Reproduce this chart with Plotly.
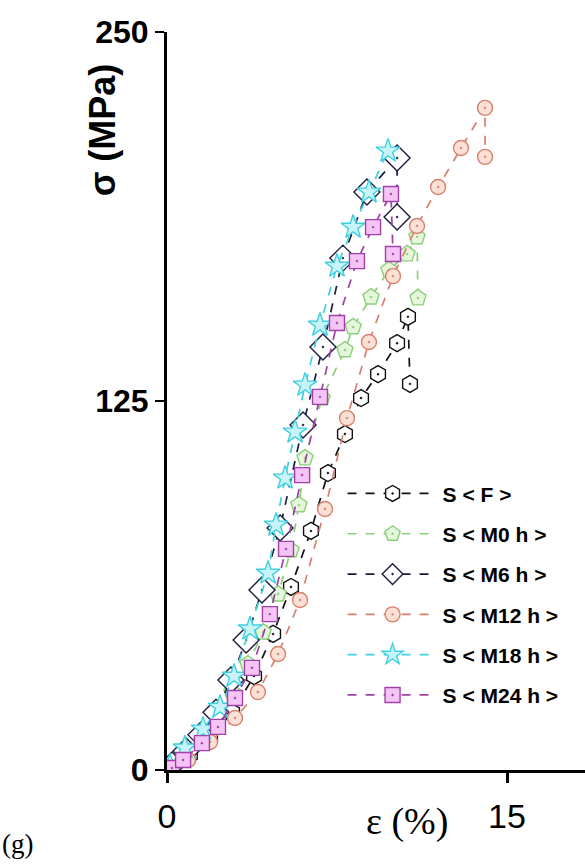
import plotly.graph_objects as go

# Strain (%) and stress (MPa) readings for each sample condition
names = ["S < F >", "S < M0 h >", "S < M6 h >", "S < M12 h >", "S < M18 h >", "S < M24 h >"]

strain_F = [0.22, 1.01, 1.90, 2.87, 3.84, 4.68, 5.47, 6.35, 7.10, 7.85, 8.56, 9.31, 10.15, 10.63, 10.72]
stress_F = [0.7, 5.1, 10.8, 19.6, 31.8, 46.1, 62.0, 81.0, 100.6, 113.8, 126.0, 134.1, 144.6, 153.5, 130.8]

strain_M0 = [0.18, 0.79, 1.46, 2.16, 2.87, 3.57, 4.24, 4.90, 5.47, 5.82, 6.09, 6.84, 7.85, 8.21, 9.00, 9.79, 10.59, 11.03, 11.07]
stress_M0 = [0.7, 5.4, 11.2, 18.3, 26.4, 35.9, 46.7, 59.6, 74.5, 89.8, 105.7, 126.0, 142.3, 150.1, 160.2, 169.4, 174.8, 180.6, 159.9]

strain_M6 = [0.22, 0.84, 1.50, 2.16, 2.82, 3.49, 4.19, 4.99, 6.00, 6.88, 7.76, 8.82, 10.15, 10.15]
stress_M6 = [1.7, 6.4, 11.9, 19.6, 30.5, 44.0, 61.0, 82.0, 116.9, 143.3, 173.4, 195.8, 207.3, 187.3]

strain_M12 = [0.22, 0.93, 1.90, 3.00, 4.01, 4.90, 5.87, 6.97, 7.94, 8.91, 9.97, 11.03, 11.96, 12.97, 14.03, 14.03]
stress_M12 = [0.7, 3.4, 9.5, 17.6, 26.4, 39.3, 57.6, 88.4, 119.2, 145.0, 167.3, 184.3, 197.5, 210.7, 224.3, 207.7]

strain_M18 = [0.13, 0.79, 1.59, 2.34, 2.96, 3.66, 4.46, 4.81, 5.21, 5.65, 6.09, 6.75, 7.50, 8.21, 8.91, 9.75]
stress_M18 = [1.4, 7.5, 13.9, 21.3, 31.8, 47.8, 66.7, 83.0, 98.9, 114.5, 130.4, 150.7, 170.7, 183.9, 195.8, 209.7]

strain_M24 = [0.22, 0.71, 1.54, 2.25, 3.00, 3.75, 4.54, 5.25, 5.96, 6.75, 7.50, 8.38, 9.09, 9.88, 9.97]
stress_M24 = [0.7, 3.4, 9.1, 14.6, 24.4, 34.6, 52.8, 74.9, 99.9, 126.4, 151.4, 172.4, 183.9, 195.1, 174.8]

x_ticks = [0, 15]
y_ticks = [0, 125, 250]

# (strain, stress, edge colour, fill colour, symbol, size)
series = [
    (strain_F, stress_F, "#111111", "#ffffff", "hexagon-dot", 17),
    (strain_M0, stress_M0, "#8ccf7a", "#e6f6dc", "pentagon-dot", 17),
    (strain_M6, stress_M6, "#1c1c40", "#ffffff", "diamond-dot", 20),
    (strain_M12, stress_M12, "#d8806e", "#fbe0d6", "circle-dot", 15),
    (strain_M18, stress_M18, "#3fd0e0", "#c8f4f8", "star", 18),
    (strain_M24, stress_M24, "#a040a8", "#f4c4f4", "square-dot", 15),
]

fig = go.Figure()
for i, (xs, ys, edge, fill, sym, sz) in enumerate(series):
    fig.add_trace(go.Scatter(
        x=xs, y=ys, name=names[i], mode="lines+markers",
        legendgroup=f"g{i}",
        line=dict(color=edge, width=1.7, dash="dash"),
        marker=dict(symbol=sym, size=sz, color=fill,
                    line=dict(color=edge, width=1.4)),
    ))

fig.update_layout(
    width=585, height=867,
    margin=dict(l=167, r=0, t=32, b=97),
    paper_bgcolor="white", plot_bgcolor="white",
    font=dict(family="Liberation Sans, Arial, sans-serif", color="black"),
    showlegend=True,
    legend=dict(
        x=0.42, y=0.402, xanchor="left", yanchor="top",
        bgcolor="rgba(0,0,0,0)", borderwidth=0,
        font=dict(size=21, family="Liberation Sans Narrow, Arial Narrow, Liberation Sans", weight="bold"),
        itemwidth=90, tracegroupgap=10, traceorder="grouped",
    ),
    xaxis=dict(
        range=[0, 18.44], tickvals=x_ticks, ticktext=[str(v) for v in x_ticks],
        showgrid=False, zeroline=False,
        showline=True, linecolor="black", linewidth=3,
        ticks="outside", ticklen=10, tickwidth=3, tickcolor="black",
        tickfont=dict(size=34, family="Liberation Sans Narrow, Liberation Sans"),
        ticklabelstandoff=4,
    ),
    yaxis=dict(
        range=[0, 250], tickvals=y_ticks, ticktext=[str(v) for v in y_ticks],
        showgrid=False, zeroline=False,
        showline=True, linecolor="black", linewidth=3,
        ticks="outside", ticklen=9, tickwidth=2, tickcolor="black",
        tickfont=dict(size=32, family="Liberation Sans Narrow, Liberation Sans", weight="bold"),
        ticklabelstandoff=0,
    ),
    annotations=[
        dict(text="σ (MPa)", xref="paper", yref="paper", x=-0.155, y=0.867,
             textangle=-90, showarrow=False, xanchor="center", yanchor="middle",
             font=dict(size=36, weight="bold", family="Liberation Sans Narrow, Liberation Sans")),
        dict(text="ε (%)", xref="paper", yref="paper", x=0.575, y=-0.07,
             showarrow=False, xanchor="center", yanchor="middle",
             font=dict(size=38, family="Liberation Serif, Liberation Sans")),
        dict(text="(g)", xref="paper", yref="paper", x=-0.4, y=-0.1,
             showarrow=False, xanchor="left", yanchor="middle",
             font=dict(size=27, family="Liberation Serif, serif")),
    ],
)

fig.write_html("out.html")
